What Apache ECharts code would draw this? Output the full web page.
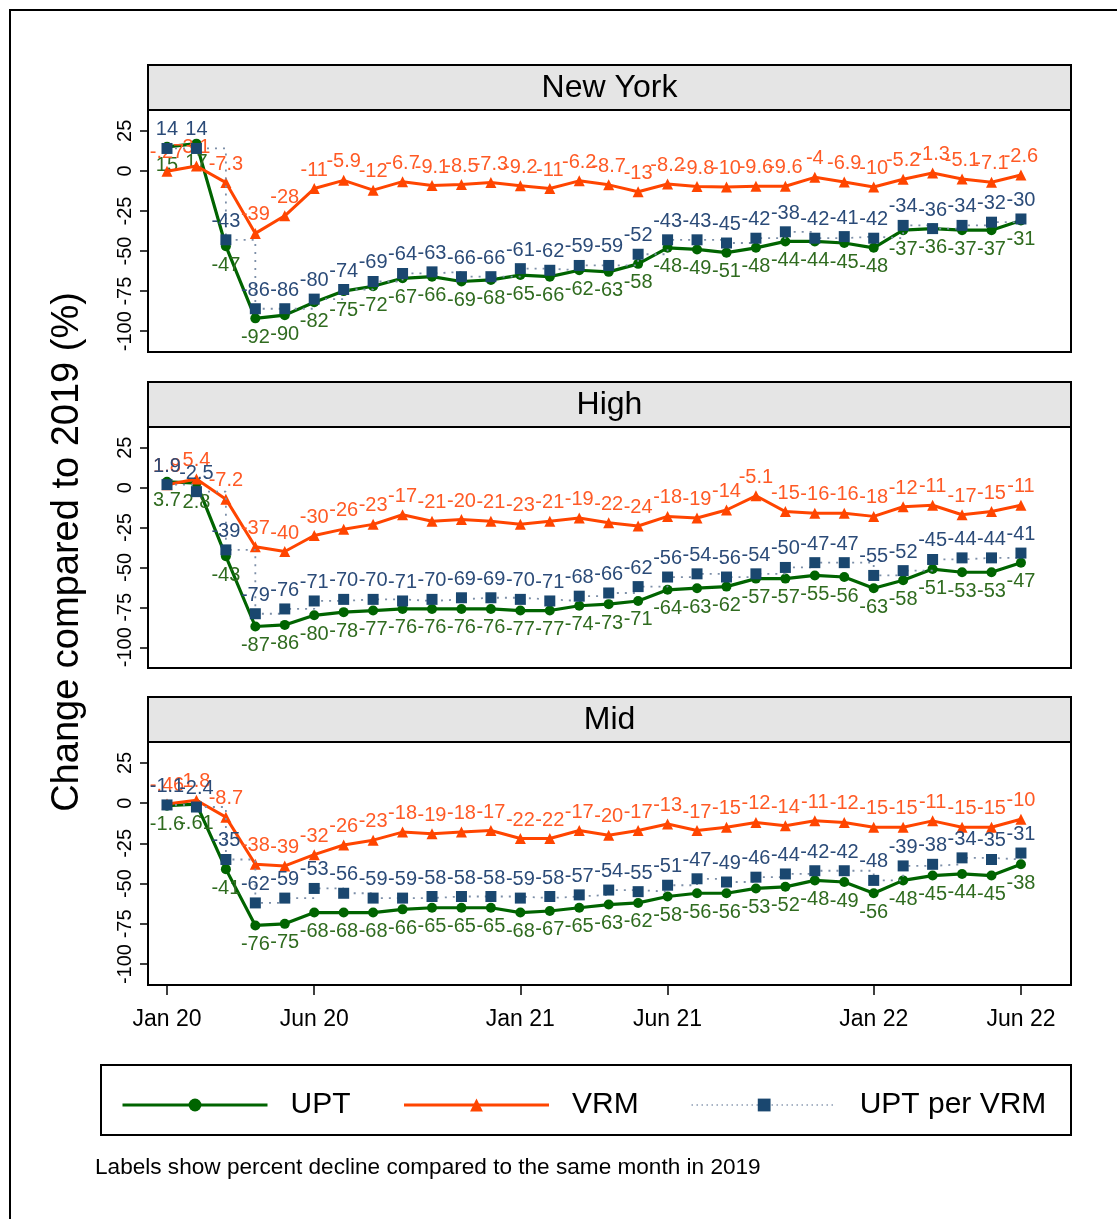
<!DOCTYPE html>
<html>
<head>
<meta charset="utf-8">
<script src="https://cdn.jsdelivr.net/npm/echarts@6/dist/echarts.min.js"></script>
<style>
html,body{margin:0;padding:0;background:#fff;}
#chart{width:1117px;height:1219px;}
</style>
</head>
<body>
<div id="chart"></div>
<script>
// ---- Data (percent change vs same month in 2019) ----
const months = ['Jan 20','Feb 20','Mar 20','Apr 20','May 20','Jun 20','Jul 20','Aug 20','Sep 20','Oct 20','Nov 20','Dec 20',
  'Jan 21','Feb 21','Mar 21','Apr 21','May 21','Jun 21','Jul 21','Aug 21','Sep 21','Oct 21','Nov 21','Dec 21',
  'Jan 22','Feb 22','Mar 22','Apr 22','May 22','Jun 22'];
const xTickLabels = ['Jan 20','Jun 20','Jan 21','Jun 21','Jan 22','Jun 22'];
const yTickValues = [-100,-75,-50,-25,0,25];
const panelTitles = ['New York','High','Mid'];
const seriesNames = ['UPT','VRM','UPT per VRM'];

const nyUPT   = [15,17,-47,-92,-90,-82,-75,-72,-67,-66,-69,-68,-65,-66,-62,-63,-58,-48,-49,-51,-48,-44,-44,-45,-48,-37,-36,-37,-37,-31];
const nyVRM   = [-0.27,3.1,-7.3,-39,-28,-11,-5.9,-12,-6.7,-9.1,-8.5,-7.3,-9.2,-11,-6.2,-8.7,-13,-8.2,-9.8,-10,-9.6,-9.6,-4,-6.9,-10,-5.2,-1.3,-5.1,-7.1,-2.6];
const nyRatio = [14,14,-43,-86,-86,-80,-74,-69,-64,-63,-66,-66,-61,-62,-59,-59,-52,-43,-43,-45,-42,-38,-42,-41,-42,-34,-36,-34,-32,-30];

const highUPT   = [3.7,2.8,-43,-87,-86,-80,-78,-77,-76,-76,-76,-76,-77,-77,-74,-73,-71,-64,-63,-62,-57,-57,-55,-56,-63,-58,-51,-53,-53,-47];
const highVRM   = [1.8,5.4,-7.2,-37,-40,-30,-26,-23,-17,-21,-20,-21,-23,-21,-19,-22,-24,-18,-19,-14,-5.1,-15,-16,-16,-18,-12,-11,-17,-15,-11];
const highRatio = [1.9,-2.5,-39,-79,-76,-71,-70,-70,-71,-70,-69,-69,-70,-71,-68,-66,-62,-56,-54,-56,-54,-50,-47,-47,-55,-52,-45,-44,-44,-41];

const midUPT   = [-1.6,-0.61,-41,-76,-75,-68,-68,-68,-66,-65,-65,-65,-68,-67,-65,-63,-62,-58,-56,-56,-53,-52,-48,-49,-56,-48,-45,-44,-45,-38];
const midVRM   = [-0.46,1.8,-8.7,-38,-39,-32,-26,-23,-18,-19,-18,-17,-22,-22,-17,-20,-17,-13,-17,-15,-12,-14,-11,-12,-15,-15,-11,-15,-15,-10];
const midRatio = [-1.1,-2.4,-35,-62,-59,-53,-56,-59,-59,-58,-58,-58,-59,-58,-57,-54,-55,-51,-47,-49,-46,-44,-42,-42,-48,-39,-38,-34,-35,-31];

// ---- Styling ----
const FONT = '"Liberation Sans", Arial, Helvetica, sans-serif';
const C_UPT = '#006400', C_VRM = '#ff4500', C_RAT = '#1a476f', C_RAT_LINE = '#7d8fa8';
const L_UPT = '#2f6b1f', L_VRM = '#ff5a25', L_RAT = '#2b4b78';
const LABEL_FS = 20;

function fmt(v){ // 2 significant digits, no leading zero (Stata %9.2g style)
  let s = String(Number(Number(v).toPrecision(2)));
  return s.replace(/^(-?)0\./, '$1.');
}

const panels = [
  {upt: nyUPT, vrm: nyVRM, ratio: nyRatio},
  {upt: highUPT, vrm: highVRM, ratio: highRatio},
  {upt: midUPT, vrm: midVRM, ratio: midRatio}
];
const gridTops = [110, 427, 742];
const gridHeights = [242, 241, 243];
const xTickPos = xTickLabels.map(l => months.indexOf(l));

const grids = [], xAxes = [], yAxes = [], series = [], graphics = [];

// outer frame
graphics.push({type:'rect', shape:{x:10,y:10,width:1200,height:1300}, style:{fill:'none', stroke:'#000', lineWidth:2}, z:0});

panels.forEach((p, i) => {
  const last = i === panels.length - 1;
  grids.push({left:148, right:46, top:gridTops[i], height:gridHeights[i], show:true, borderColor:'#000', borderWidth:2, backgroundColor:'#fff'});
  xAxes.push({
    type:'value', gridIndex:i, min:-0.645, max:30.70, position:'bottom',
    axisLine:{show:false, onZero:false}, splitLine:{show:false},
    axisTick:{show:last, customValues:xTickPos, length:10, lineStyle:{color:'#000', width:1.5}},
    axisLabel:{show:last, customValues:xTickPos, margin:23, fontSize:23, color:'#000', fontFamily:FONT,
      formatter: v => months[Math.round(v)]}
  });
  yAxes.push({
    type:'value', gridIndex:i, min:-113, max:38, position:'left',
    axisLine:{show:false, onZero:false}, splitLine:{show:false},
    axisTick:{show:true, customValues:yTickValues, length:8, lineStyle:{color:'#000', width:1.5}},
    axisLabel:{show:true, customValues:yTickValues, rotate:90, margin:13, fontSize:20, color:'#000', fontFamily:FONT}
  });
  const mk = arr => arr.map((v, k) => [k, v]);
  series.push({
    name:seriesNames[0], type:'line', xAxisIndex:i, yAxisIndex:i, data:mk(p.upt),
    symbol:'circle', symbolSize:10, lineStyle:{color:C_UPT, width:3.2}, itemStyle:{color:C_UPT},
    label:{show:true, position:'bottom', distance:4, color:L_UPT, fontSize:LABEL_FS, fontFamily:FONT, formatter: d => fmt(d.value[1])},
    animation:false, z:3
  });
  series.push({
    name:seriesNames[1], type:'line', xAxisIndex:i, yAxisIndex:i, data:mk(p.vrm),
    symbol:'triangle', symbolSize:11, lineStyle:{color:C_VRM, width:3}, itemStyle:{color:C_VRM},
    label:{show:true, position:'top', distance:3, color:L_VRM, fontSize:LABEL_FS, fontFamily:FONT, formatter: d => fmt(d.value[1])},
    animation:false, z:4
  });
  series.push({
    name:seriesNames[2], type:'line', xAxisIndex:i, yAxisIndex:i, data:mk(p.ratio), step:'end',
    symbol:'rect', symbolSize:11, lineStyle:{color:C_RAT_LINE, width:1.8, type:[2,6]}, itemStyle:{color:C_RAT},
    label:{show:true, position:'top', distance:3, color:L_RAT, fontSize:LABEL_FS, fontFamily:FONT, formatter: d => fmt(d.value[1])},
    animation:false, z:5
  });
  // panel header strip
  const stripTop = gridTops[i] - 45;
  graphics.push({type:'rect', shape:{x:148, y:stripTop, width:923, height:45}, style:{fill:'#e5e5e5', stroke:'#000', lineWidth:2}, z:1});
  graphics.push({type:'text', x:609.5, y:stripTop + 23, style:{text:panelTitles[i], fill:'#000', font:'32px ' + FONT, textAlign:'center', textVerticalAlign:'middle'}, z:2});
});

// y axis title
graphics.push({type:'text', x:68, y:552, rotation:Math.PI/2, style:{text:'Change compared to 2019 (%)', fill:'#000', font:'38px ' + FONT, textAlign:'center', textVerticalAlign:'middle'}, z:2});
// legend box
graphics.push({type:'rect', shape:{x:101, y:1065, width:970, height:70}, style:{fill:'#fff', stroke:'#000', lineWidth:2}, z:0});
// footnote
graphics.push({type:'text', x:95, y:1168, style:{text:'Labels show percent decline compared to the same month in 2019', fill:'#000', font:'22.6px ' + FONT, textAlign:'left', textVerticalAlign:'middle'}, z:2});

const chart = echarts.init(document.getElementById('chart'), null, {renderer:'canvas'});
chart.setOption({
  backgroundColor:'#fff',
  animation:false,
  grid: grids, xAxis: xAxes, yAxis: yAxes, series: series,
  legend:{
    data: [
      {name:seriesNames[0], lineStyle:{width:3, color:C_UPT}},
      {name:seriesNames[1], lineStyle:{width:3, color:C_VRM}},
      {name:seriesNames[2], lineStyle:{width:2, color:C_RAT_LINE, type:[1,4]}}
    ],
    left:116, top:1085, orient:'horizontal',
    itemWidth:145, itemHeight:16, itemGap:52, selectedMode:false,
    textStyle:{fontSize:30, color:'#000', fontFamily:FONT, padding:[0,0,0,18]},
    z:10
  },
  graphic: graphics
});
</script>
</body>
</html>
